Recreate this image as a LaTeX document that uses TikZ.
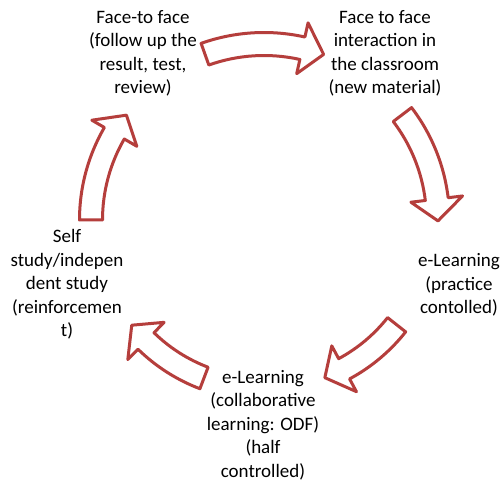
\documentclass[tikz,border=0pt]{standalone}
\usepackage{fontspec}
\setmainfont{Carlito}
\definecolor{arrowred}{RGB}{181,62,60}
\tikzset{
  cyclearrowstyle/.style={draw=arrowred, fill=white, line width=3pt, line join=round},
  steptext/.style={align=center, inner sep=0pt, anchor=north,
    font=\fontsize{19}{23.5}\selectfont, text=black}
}
\newcommand\cyclearrow[3]{%
  \pgfmathsetmacro\hbase{#2+7.2}%
  \pgfmathsetlengthmacro\rout{#3+11.5}%
  \pgfmathsetlengthmacro\rin{#3-11.5}%
  \pgfmathsetlengthmacro\rbo{#3+26}%
  \pgfmathsetlengthmacro\rbi{#3-26}%
  \pgfmathsetlengthmacro\rmid{#3}%
  \draw[cyclearrowstyle] (#1:\rout) arc[start angle=#1, end angle=\hbase, radius=\rout]
    -- (\hbase:\rbo) -- (#2:\rmid) -- (\hbase:\rbi) -- (\hbase:\rin)
    arc[start angle=\hbase, end angle=#1, radius=\rin] -- cycle;}
\begin{document}
\begin{tikzpicture}[x=1pt,y=1pt]
  \fill[white] (0,0) rectangle (503,482);
  \useasboundingbox (0,0) rectangle (503,482);
  \node[steptext] (ftf1) at (143,475.2) {\strut Face-to face\\(follow up the\\result, test,\\review)};
  \node[steptext] (ftf2) at (385,475.2) {\strut Face to face\\interaction in\\the classroom\\(new material)};
  \node[steptext] (el1) at (459,231.8) {\strut e-Learning\\(practice\\contolled)};
  \node[steptext] (el2) at (263,115.5) {\strut e-Learning\\(collaborative\\learning: ODF)\\(half\\controlled)};
  \node[steptext] (self) at (67,255.8) {\strut Self\\study/indepen\\dent study\\(reinforcemen\\t)};
  \begin{scope}[shift={(264,262)}]
    \cyclearrow{109.6}{70.2}{176}
    \cyclearrow{37.3}{-0.3}{174}
    \cyclearrow{-38.3}{-68.9}{169}
    \cyclearrow{249.2}{218.5}{169}
    \cyclearrow{180}{142.7}{173}
  \end{scope}
\end{tikzpicture}
\end{document}
